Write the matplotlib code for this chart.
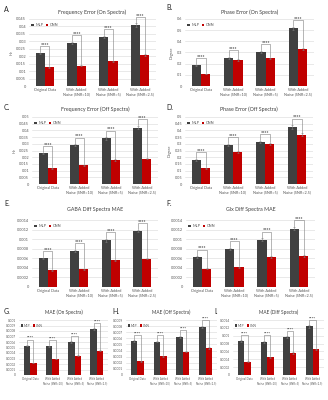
import numpy as np
import matplotlib.pyplot as plt
from matplotlib.ticker import FuncFormatter, MultipleLocator

plt.rcParams['font.family'] = ['Lato', 'DejaVu Sans']

groups = ["Original Data", "With Added\nNoise (SNR=10)", "With Added\nNoise (SNR=5)",
          "With Added\nNoise (SNR=2.5)"]

# A. frequency error, on spectra (Hz)
freq_on_mlp = [0.0219, 0.0290, 0.0328, 0.0408]
freq_on_cnn = [0.0125, 0.0136, 0.0167, 0.0208]
freq_on_mlp_err = [0.0006, 0.0008, 0.0008, 0.0012]
freq_on_cnn_err = [0.0003, 0.0004, 0.0004, 0.0005]

# B. phase error, on spectra (degree)
phase_on_mlp = [0.185, 0.254, 0.302, 0.516]
phase_on_cnn = [0.107, 0.233, 0.248, 0.331]
phase_on_mlp_err = [0.006, 0.008, 0.010, 0.015]
phase_on_cnn_err = [0.004, 0.007, 0.007, 0.010]

# C. frequency error, off spectra (Hz)
freq_off_mlp = [0.0229, 0.0290, 0.0340, 0.0421]
freq_off_cnn = [0.0118, 0.0140, 0.0178, 0.0190]
freq_off_mlp_err = [0.0006, 0.0007, 0.0008, 0.0011]
freq_off_cnn_err = [0.0003, 0.0004, 0.0005, 0.0005]

# D. phase error, off spectra (degree)
phase_off_mlp = [0.180, 0.290, 0.313, 0.426]
phase_off_cnn = [0.118, 0.236, 0.298, 0.369]
phase_off_mlp_err = [0.006, 0.009, 0.009, 0.012]
phase_off_cnn_err = [0.004, 0.007, 0.008, 0.010]

# E. GABA diff spectra MAE
gaba_mlp = [0.00060, 0.00076, 0.000975, 0.00117]
gaba_cnn = [0.00035, 0.00037, 0.000555, 0.00059]
gaba_mlp_err = [0.000015, 0.00002, 0.000025, 0.00003]
gaba_cnn_err = [0.00001, 0.00001, 0.000015, 0.000015]

# F. Glx diff spectra MAE
glx_mlp = [0.000624, 0.00080, 0.00099, 0.00122]
glx_cnn = [0.00038, 0.00041, 0.000624, 0.00065]
glx_mlp_err = [0.000015, 0.00002, 0.000025, 0.00003]
glx_cnn_err = [0.00001, 0.00001, 0.000015, 0.000015]

# G. MAE on spectra
mae_on_mlp = [0.000533, 0.00052, 0.00060, 0.00083]
mae_on_cnn = [0.000218, 0.00029, 0.00035, 0.00044]
mae_on_mlp_err = [0.000012, 0.000012, 0.000015, 0.00002]
mae_on_cnn_err = [0.000006, 0.000007, 0.000008, 0.00001]

# H. MAE off spectra
mae_off_mlp = [0.000557, 0.000546, 0.000627, 0.000784]
mae_off_cnn = [0.000222, 0.000308, 0.000384, 0.000443]
mae_off_mlp_err = [0.000012, 0.000012, 0.000015, 0.00002]
mae_off_cnn_err = [0.000006, 0.000007, 0.000008, 0.00001]

# I. MAE diff spectra
mae_diff_mlp = [0.000864, 0.000847, 0.000966, 0.001237]
mae_diff_cnn = [0.000339, 0.000449, 0.000559, 0.000653]
mae_diff_mlp_err = [0.00002, 0.00002, 0.000025, 0.00003]
mae_diff_cnn_err = [0.00001, 0.000012, 0.000015, 0.000015]

W, H = 328, 400
MLP_COLOR = '#404040'
CNN_COLOR = '#c00000'
GRAY = '#595959'

fig = plt.figure(figsize=(W / 100, H / 100), dpi=100)


def rect(left, right, top, zero):
    return [left / W, 1 - zero / H, (right - left) / W, (zero - top) / H]


def letter(x, y, s):
    fig.text(x / W, 1 - y / H, s, fontsize=5, color='#222222', va='center', ha='left')


def panel(box, title, title_y, ylabel, mlp, cnn, mlp_err, cnn_err, ymax, step,
          fs_tick=2.8, fs_cat=2.8, fs_title=3.8, fs_star=3.6):
    ax = fig.add_axes(box)
    x = np.arange(len(groups))
    w = 0.29
    ekw = dict(ecolor='#7f7f7f', elinewidth=0.4, capsize=0.9, capthick=0.4)
    ax.bar(x - w / 2, mlp, w, color=MLP_COLOR, label='MLP', zorder=3, yerr=mlp_err, error_kw=ekw)
    ax.bar(x + w / 2, cnn, w, color=CNN_COLOR, label='CNN', zorder=3, yerr=cnn_err, error_kw=ekw)
    # significance brackets
    for i in range(len(groups)):
        top = mlp[i] + mlp_err[i] + 0.10 * ymax
        ax.plot([x[i] - w / 2, x[i] - w / 2, x[i] + w / 2, x[i] + w / 2],
                [mlp[i] + mlp_err[i] + 0.01 * ymax, top, top, cnn[i] + cnn_err[i] + 0.01 * ymax],
                color='#8c8c8c', lw=0.45, zorder=4, clip_on=False)
        ax.text(x[i], top - 0.012 * ymax, '****', ha='center', va='bottom',
                fontsize=fs_star, color='#404040', fontweight='bold', clip_on=False)
    ax.set_xlim(-0.5, len(groups) - 0.5)
    ax.set_ylim(0, ymax)
    ax.yaxis.set_major_locator(MultipleLocator(step))
    ax.yaxis.set_major_formatter(FuncFormatter(lambda v, p: '0' if abs(v) < 1e-12 else '{:g}'.format(round(v, 8))))
    ax.set_xticks(x)
    ax.set_xticklabels(groups, fontsize=fs_cat, color=GRAY, linespacing=1.2)
    ax.tick_params(axis='y', labelsize=fs_tick, colors=GRAY, length=0, pad=2)
    ax.tick_params(axis='x', length=0, pad=1.5)
    ax.grid(axis='y', color='#d9d9d9', lw=0.4, zorder=0)
    for s in ax.spines.values():
        s.set_visible(False)
    if ylabel:
        ax.set_ylabel(ylabel, fontsize=fs_tick, color=GRAY, labelpad=2)
    fig.text(box[0] + box[2] / 2, 1 - title_y / H, title, ha='center', va='center',
             fontsize=fs_title, color='#404040')
    leg = ax.legend(loc='upper left', ncol=2, frameon=False, fontsize=fs_tick,
                    handlelength=0.7, handleheight=0.7, handletextpad=0.3, columnspacing=0.6,
                    borderaxespad=0.2, bbox_to_anchor=(0.0, 0.97))
    for t in leg.get_texts():
        t.set_color(GRAY)
    return ax


panel(rect(29, 156, 19, 86), 'Frequency Error (On Spectra)', 12, 'Hz',
      freq_on_mlp, freq_on_cnn, freq_on_mlp_err, freq_on_cnn_err, 0.045, 0.005)
panel(rect(185, 314, 19, 86), 'Phase Error (On Spectra)', 12, 'Degree',
      phase_on_mlp, phase_on_cnn, phase_on_mlp_err, phase_on_cnn_err, 0.6, 0.1)
panel(rect(32, 158, 117, 184), 'Frequency Error (Off Spectra)', 109, 'Hz',
      freq_off_mlp, freq_off_cnn, freq_off_mlp_err, freq_off_cnn_err, 0.05, 0.005)
panel(rect(185, 313, 117, 184), 'Phase Error (Off Spectra)', 109, 'Degree',
      phase_off_mlp, phase_off_cnn, phase_off_mlp_err, phase_off_cnn_err, 0.5, 0.05)
panel(rect(32, 158, 220, 287), 'GABA Diff Spectra MAE', 209, None,
      gaba_mlp, gaba_cnn, gaba_mlp_err, gaba_cnn_err, 0.0014, 0.0002)
panel(rect(186, 315, 220, 287), 'Glx Diff Spectra MAE', 209, None,
      glx_mlp, glx_cnn, glx_mlp_err, glx_cnn_err, 0.0014, 0.0002)
panel(rect(19, 108, 320, 375), 'MAE (On Spectra)', 312, None,
      mae_on_mlp, mae_on_cnn, mae_on_mlp_err, mae_on_cnn_err, 0.001, 0.0001,
      fs_tick=2.3, fs_cat=2.0, fs_title=3.4, fs_star=3.0)
panel(rect(126, 217, 320, 375), 'MAE (Off Spectra)', 312, None,
      mae_off_mlp, mae_off_cnn, mae_off_mlp_err, mae_off_cnn_err, 0.0009, 0.0001,
      fs_tick=2.3, fs_cat=2.0, fs_title=3.4, fs_star=3.0)
panel(rect(233, 324, 320, 375), 'MAE (Diff Spectra)', 312, None,
      mae_diff_mlp, mae_diff_cnn, mae_diff_mlp_err, mae_diff_cnn_err, 0.0014, 0.0002,
      fs_tick=2.3, fs_cat=2.0, fs_title=3.4, fs_star=3.0)

for lx, ly, s in [(4, 10, 'A.'), (166, 8, 'B.'), (4, 107, 'C.'), (166, 107, 'D.'),
                  (4, 204, 'E.'), (166, 204, 'F.'), (4, 312, 'G.'), (112, 312, 'H.'),
                  (214, 312, 'I.')]:
    letter(lx, ly, s)

fig.savefig('out.png', dpi=100)
